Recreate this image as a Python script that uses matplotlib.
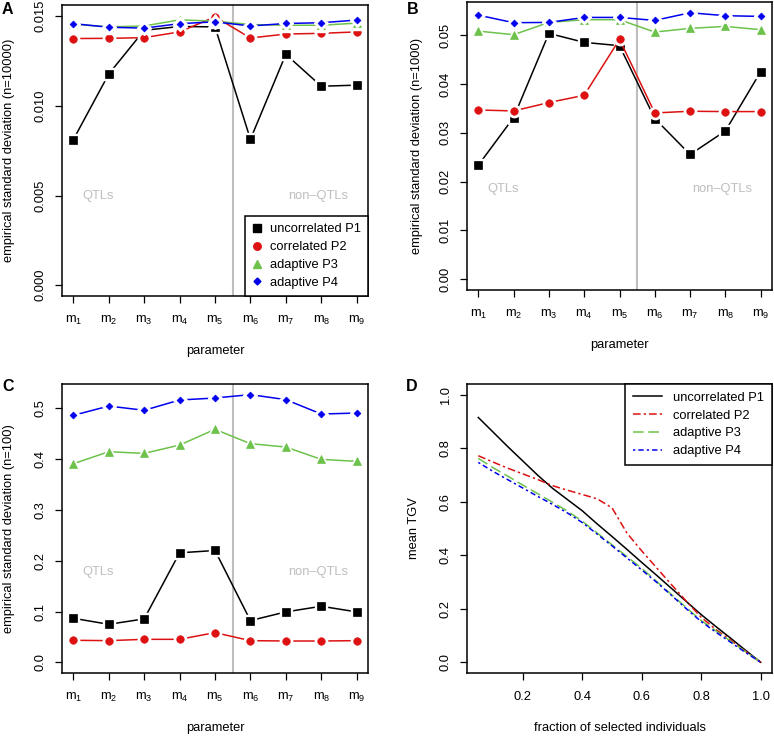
import matplotlib
matplotlib.use("Agg")
import matplotlib.pyplot as plt
from matplotlib.lines import Line2D

plt.rcParams['font.family'] = ['Liberation Sans', 'DejaVu Sans']
plt.rcParams['mathtext.fontset'] = 'custom'
plt.rcParams['mathtext.rm'] = 'Liberation Sans'
plt.rcParams['mathtext.it'] = 'Liberation Sans'
plt.rcParams['mathtext.default'] = 'regular'
plt.rcParams['font.size'] = 9.3

# -> data
params = [1, 2, 3, 4, 5, 6, 7, 8, 9]
param_labels = ['$m_%d$' % i for i in params]
series_names = ['uncorrelated P1', 'correlated P2', 'adaptive P3', 'adaptive P4']

# panel A, n=10000
a_p1 = [0.00812, 0.01178, 0.01422, 0.01443, 0.01441, 0.00814, 0.01288, 0.01110, 0.01116]
a_p2 = [0.01376, 0.01377, 0.01381, 0.01413, 0.01497, 0.01379, 0.01401, 0.01405, 0.01413]
a_p3 = [0.01456, 0.01441, 0.01446, 0.01480, 0.01473, 0.01454, 0.01450, 0.01450, 0.01462]
a_p4 = [0.01459, 0.01439, 0.01434, 0.01459, 0.01469, 0.01446, 0.01460, 0.01464, 0.01479]

# panel B, n=1000
b_p1 = [0.02337, 0.03313, 0.05037, 0.04853, 0.04785, 0.03292, 0.02556, 0.03039, 0.04254]
b_p2 = [0.03468, 0.03448, 0.03620, 0.03769, 0.04914, 0.03407, 0.03442, 0.03435, 0.03435]
b_p3 = [0.05084, 0.05010, 0.05262, 0.05317, 0.05317, 0.05064, 0.05140, 0.05180, 0.05112]
b_p4 = [0.05411, 0.05256, 0.05262, 0.05364, 0.05364, 0.05303, 0.05460, 0.05399, 0.05385]

# panel C, n=100
c_p1 = [0.0867, 0.0749, 0.0855, 0.2156, 0.2202, 0.0822, 0.0993, 0.1104, 0.0993]
c_p2 = [0.0434, 0.0427, 0.0453, 0.0453, 0.0585, 0.0427, 0.0420, 0.0420, 0.0427]
c_p3 = [0.3910, 0.4147, 0.4114, 0.4278, 0.4587, 0.4305, 0.4239, 0.3996, 0.3957]
c_p4 = [0.4863, 0.5046, 0.4962, 0.5165, 0.5204, 0.5271, 0.5172, 0.4889, 0.4908]

# panel D, mean TGV vs fraction selected
fraction = [0.05, 0.10, 0.15, 0.20, 0.25, 0.30, 0.35, 0.40, 0.45, 0.50,
            0.55, 0.60, 0.65, 0.70, 0.75, 0.80, 0.85, 0.90, 0.95, 1.00]
d_p1 = [0.915, 0.860, 0.805, 0.752, 0.699, 0.650, 0.608, 0.566, 0.517, 0.470,
        0.422, 0.373, 0.325, 0.276, 0.227, 0.178, 0.133, 0.089, 0.044, 0.0]
d_p2 = [0.772, 0.748, 0.725, 0.704, 0.683, 0.660, 0.643, 0.627, 0.611, 0.577,
        0.483, 0.416, 0.353, 0.290, 0.228, 0.168, 0.122, 0.082, 0.040, 0.0]
d_p3 = [0.762, 0.727, 0.695, 0.662, 0.630, 0.598, 0.565, 0.527, 0.483, 0.439,
        0.395, 0.351, 0.302, 0.253, 0.204, 0.156, 0.117, 0.078, 0.039, 0.0]
d_p4 = [0.747, 0.713, 0.682, 0.651, 0.620, 0.590, 0.558, 0.522, 0.479, 0.435,
        0.390, 0.345, 0.299, 0.250, 0.200, 0.152, 0.112, 0.074, 0.036, 0.0]

colors = ['black', '#DD1111', '#6CC24A', '#0000EE']
markers = ['s', 'o', '^', 'D']
msizes = [5.2, 5.4, 6.2, 3.5]
grey = '#BEBEBE'

fig = plt.figure(figsize=(7.74, 7.39), dpi=100)


def px_axes(left, top, right, bottom):
    W, H = 774.0, 739.0
    return fig.add_axes([left / W, 1 - bottom / H, (right - left) / W, (bottom - top) / H])


def style_axes(ax):
    for s in ax.spines.values():
        s.set_linewidth(1.1)
    ax.tick_params(direction='out', length=5, width=0.9, pad=6)
    ax.tick_params(axis='x', pad=8)
    ax.tick_params(axis='y', labelrotation=90)
    for lab in ax.get_yticklabels():
        lab.set_va('center')


def sd_panel(ax, data, ylim, yticks, ylabel, txt_y):
    for i, ys in enumerate(data):
        z = 2 + 3 * i
        ax.plot(params, ys, color=colors[i], lw=1.1, zorder=z)
        ax.plot(params, ys, ls='none', marker=markers[i], ms=msizes[i] + 3.5,
                mfc='white', mec='white', zorder=z + 1)
        ax.plot(params, ys, ls='none', marker=markers[i], ms=msizes[i],
                mfc=colors[i], mec=colors[i], mew=0.5, zorder=z + 2)
    ax.axvline(5.5, color=grey, lw=1.5, zorder=1)
    ax.text(1.7, txt_y, 'QTLs', color=grey, ha='center', va='center')
    ax.text(7.9, txt_y, 'non\u2013QTLs', color=grey, ha='center', va='center')
    ax.set_xlim(0.68, 9.32)
    ax.set_ylim(*ylim)
    ax.set_xticks(params)
    ax.set_xticklabels(param_labels)
    ax.set_yticks(yticks)
    ax.set_ylabel(ylabel)
    ax.set_xlabel('parameter')
    style_axes(ax)
    ax.yaxis.set_label_coords(-0.155, 0.5)
    ax.xaxis.set_label_coords(0.5, -0.17)


ax_a = px_axes(62, 5, 368, 296)
sd_panel(ax_a, [a_p1, a_p2, a_p3, a_p4], (-0.0006, 0.01563),
         [0.0, 0.005, 0.010, 0.015], 'empirical standard deviation (n=10000)', 0.005)
ax_a.set_yticklabels(['0.000', '0.005', '0.010', '0.015'])
handles = [Line2D([], [], ls='none', marker=markers[i], ms=msizes[i], color=colors[i])
           for i in range(4)]
leg = ax_a.legend(handles, series_names, loc='lower right', borderaxespad=0,
                  fancybox=False, edgecolor='black', framealpha=1, handlelength=0.8,
                  handletextpad=0.6, labelspacing=0.45, borderpad=0.55)
leg.get_frame().set_linewidth(1.1)
leg.set_zorder(20)

ax_b = px_axes(467, 2, 772, 290)
sd_panel(ax_b, [b_p1, b_p2, b_p3, b_p4], (-0.0022, 0.0568),
         [0.0, 0.01, 0.02, 0.03, 0.04, 0.05], 'empirical standard deviation (n=1000)', 0.0184)
ax_b.set_yticklabels(['0.00', '0.01', '0.02', '0.03', '0.04', '0.05'])
ax_b.yaxis.set_label_coords(-0.145, 0.5)

ax_c = px_axes(62, 384, 368, 673)
sd_panel(ax_c, [c_p1, c_p2, c_p3, c_p4], (-0.021, 0.548),
         [0.0, 0.1, 0.2, 0.3, 0.4, 0.5], 'empirical standard deviation (n=100)', 0.178)
ax_c.set_yticklabels(['0.0', '0.1', '0.2', '0.3', '0.4', '0.5'])

ax_d = px_axes(467, 384, 772, 673)
d_styles = ['-', (0, (5, 2, 1.5, 2)), (0, (7, 3)), (0, (1.5, 2, 3.5, 2))]
for i, ys in enumerate([d_p1, d_p2, d_p3, d_p4]):
    ax_d.plot(fraction, ys, color=colors[i], ls=d_styles[i], lw=1.1, label=series_names[i])
ax_d.set_xlim(0.012, 1.038)
ax_d.set_ylim(-0.04, 1.04)
ax_d.set_xticks([0.2, 0.4, 0.6, 0.8, 1.0])
ax_d.set_xticklabels(['0.2', '0.4', '0.6', '0.8', '1.0'])
ax_d.set_yticks([0.0, 0.2, 0.4, 0.6, 0.8, 1.0])
ax_d.set_yticklabels(['0.0', '0.2', '0.4', '0.6', '0.8', '1.0'])
ax_d.set_xlabel('fraction of selected individuals')
ax_d.set_ylabel('mean TGV')
style_axes(ax_d)
ax_d.yaxis.set_label_coords(-0.155, 0.5)
ax_d.xaxis.set_label_coords(0.5, -0.17)
leg = ax_d.legend(loc='upper right', borderaxespad=0, fancybox=False, edgecolor='black',
                  framealpha=1, handlelength=2.2, handletextpad=0.9, labelspacing=0.45,
                  borderpad=0.6)
leg.get_frame().set_linewidth(1.1)

for x, y, s in [(2, 9, 'A'), (407, 9, 'B'), (2, 386, 'C'), (406, 386, 'D')]:
    fig.text(x / 774, 1 - y / 739, s, ha='left', va='center', weight='bold', size=11.5)

fig.savefig('out.png', dpi=100)
